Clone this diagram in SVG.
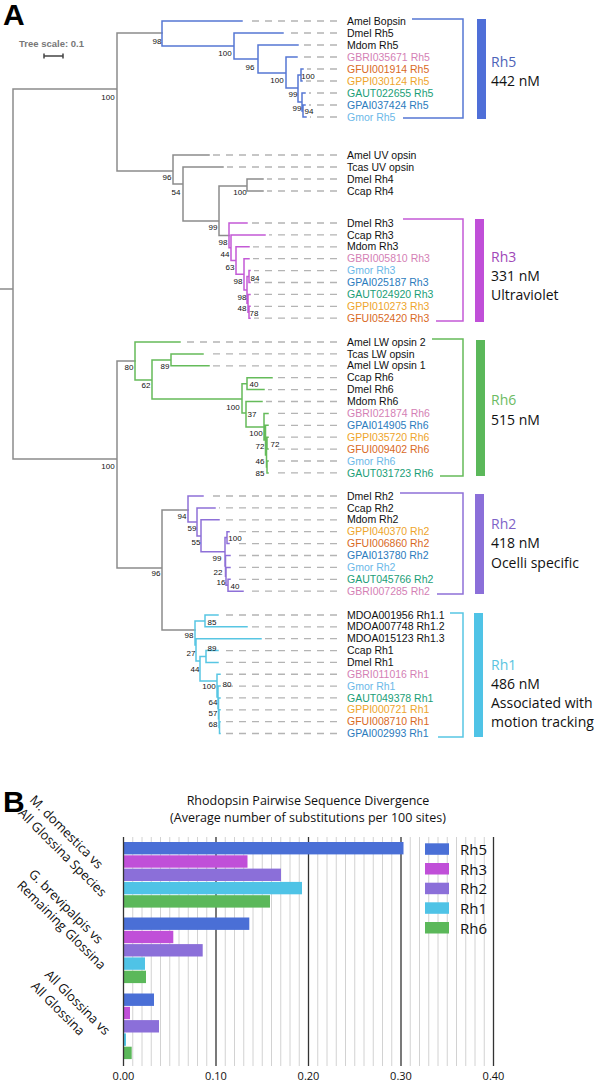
<svg xmlns="http://www.w3.org/2000/svg" width="596" height="1083" viewBox="0 0 596 1083">
<style>
.t{fill:none;stroke-width:1.5;stroke-linecap:square}
.g{stroke:#8c8c8c}.b5{stroke:#5577d4}.m3{stroke:#c35ad6}.g6{stroke:#65bb5a}.p2{stroke:#8e70d8}.c1{stroke:#58c6e3}
.d line{stroke:#b4b4b4;stroke-width:1.3;stroke-dasharray:7 6}
.lf{font-family:"Liberation Sans",Arial,sans-serif;font-size:10.5px;fill:#111}
.bs{font-family:"Liberation Sans",Arial,sans-serif;font-size:8px;fill:#111;text-anchor:middle}
.pk{fill:#d47fb5}.or{fill:#d96a1f}.ye{fill:#eea52c}.te{fill:#1a9e77}.bl{fill:#2b7bbd}.lb{fill:#6bb8e8}
.cl{font-family:"Open Sans",sans-serif;font-size:14px;fill:#111}
.br{fill:none;stroke-width:1.5}
.ch{font-family:"Open Sans",sans-serif;fill:#111}
</style>
<text x="3" y="25" font-family="Liberation Sans,Arial,sans-serif" font-weight="bold" font-size="30">A</text>
<g id="scale">
<text x="19" y="47" font-family="Liberation Sans,Arial,sans-serif" font-weight="bold" font-size="9.5" fill="#777">Tree scale: 0.1</text>
<path d="M44 56 H63 M44 53.5 V58.5 M63 53.5 V58.5" stroke="#444" stroke-width="1.5" fill="none"/>
</g>
<g id="connectors">
<path class="t g" d="M0 289 H13 M13 89 V459 M13 89 H117 M117 33 V171 M117 33 H162 M117 171 H173 M173 155 V184 M173 155 H209 M173 184 H183 M183 167 V221 M183 167 H223 M183 221 H219 M219 186 V235.4 M219 186 H247 M247 179 V191 M247 179 H263 M247 191 H263 M219 235.4 H229 M13 459 H117 M117 361 V568 M117 361 H135 M117 568 H162 M162 510 V630 M162 510 H188 M162 630 H195"/>
<path class="t b5" d="M162 21 V46 M162 21 H242 M162 46 H234 M234 33 V59 M234 33 H283 M234 59 H258 M258 45 V73 M258 45 H298 M258 73 H286 M286 57 V88 M286 57 H297 M286 88 H298 M298 75 V102 M298 75 H301 M301 69 V81 M301 69 H303 M301 81 H302 M298 102 H302 M302 93 V111 M302 93 H305 M302 111 H303 M303 105 V117 M303 105 H305 M303 117 H306"/>
<path class="t m3" d="M229 223 V247.7 M229 223 H247 M229 247.7 H231 M231 234.9 V260.5 M231 234.9 H265 M231 260.5 H236 M236 246.8 V274.3 M236 246.8 H249 M236 274.3 H244 M244 258.7 V289.9 M244 258.7 H249 M244 289.9 H247 M247 276.5 V303.3 M247 276.5 H249 M249 270.6 V282.5 M249 270.6 H250 M249 282.5 H250 M247 303.3 H248 M248 294.4 V312.3 M248 294.4 H250 M248 312.3 H249 M249 306.3 V318.2 M249 306.3 H250 M249 318.2 H250"/>
<path class="t g6" d="M135 342 V380 M135 342 H180 M135 380 H152 M152 360 V399 M152 360 H171 M171 353.9 V365.8 M171 353.9 H203 M171 365.8 H209 M152 399 H242 M242 383.7 V413 M242 383.7 H247 M247 377.7 V389.6 M247 377.7 H272 M247 389.6 H264 M242 413 H246 M246 401.5 V427 M246 401.5 H262 M246 427 H264 M264 413.4 V440 M264 413.4 H268 M264 440 H265.5 M265.5 425.3 V455 M265.5 425.3 H268 M265.5 455 H266.5 M266.5 443.2 V467 M266.5 443.2 H267 M267 437.2 V449.1 M267 437.2 H268 M267 449.1 H268 M266.5 467 H267 M267 461 V472.9 M267 461 H268 M267 472.9 H268"/>
<path class="t p2" d="M188 496 V522 M188 496 H203 M188 522 H197 M197 507.9 V536 M197 507.9 H215 M197 536 H201 M201 519.8 V551.8 M201 519.8 H219 M201 551.8 H225 M225 537.6 V566 M225 537.6 H227 M227 531.7 V543.6 M227 531.7 H229 M227 543.6 H229 M225 566 H225.5 M225.5 555.5 V576.3 M225.5 555.5 H230 M225.5 576.3 H226 M226 567.4 V585.3 M226 567.4 H230 M226 585.3 H228 M228 579.3 V591.2 M228 579.3 H230 M228 591.2 H243"/>
<path class="t c1" d="M195 621 V645 M195 621 H205 M205 615 V626.85 M205 615 H218 M205 626.85 H247 M195 645 H196 M196 638.7 V661 M196 638.7 H261 M196 661 H200 M200 656.5 V681 M200 656.5 H206 M206 650.55 V662.4 M206 650.55 H218 M206 662.4 H218 M200 681 H217 M217 674.25 V697 M217 674.25 H220 M217 697 H218 M218 686.1 V708.4 M218 686.1 H220 M218 708.4 H218.5 M218.5 697.95 V718.8 M218.5 697.95 H220 M218.5 718.8 H219 M219 709.8 V727.6 M219 709.8 H220 M219 727.6 H219.5 M219.5 721.65 V733.5 M219.5 721.65 H220 M219.5 733.5 H220"/>
<g class="d">
<line x1="337" y1="21" x2="246" y2="21"/><line x1="337" y1="33" x2="287" y2="33"/><line x1="337" y1="45" x2="302" y2="45"/><line x1="337" y1="57" x2="301" y2="57"/><line x1="337" y1="69" x2="307" y2="69"/><line x1="337" y1="81" x2="306" y2="81"/><line x1="337" y1="93" x2="309" y2="93"/><line x1="337" y1="105" x2="309" y2="105"/><line x1="337" y1="117" x2="310" y2="117"/>
<line x1="337" y1="155" x2="213" y2="155"/><line x1="337" y1="167" x2="227" y2="167"/><line x1="337" y1="179" x2="267" y2="179"/><line x1="337" y1="191" x2="267" y2="191"/>
<line x1="337" y1="223" x2="251" y2="223"/><line x1="337" y1="234.9" x2="269" y2="234.9"/><line x1="337" y1="246.8" x2="253" y2="246.8"/><line x1="337" y1="258.7" x2="253" y2="258.7"/><line x1="337" y1="270.6" x2="254" y2="270.6"/><line x1="337" y1="282.5" x2="254" y2="282.5"/><line x1="337" y1="294.4" x2="254" y2="294.4"/><line x1="337" y1="306.3" x2="254" y2="306.3"/><line x1="337" y1="318.2" x2="254" y2="318.2"/>
<line x1="337" y1="342" x2="184" y2="342"/><line x1="337" y1="353.9" x2="207" y2="353.9"/><line x1="337" y1="365.8" x2="213" y2="365.8"/><line x1="337" y1="377.7" x2="276" y2="377.7"/><line x1="337" y1="389.6" x2="268" y2="389.6"/><line x1="337" y1="401.5" x2="266" y2="401.5"/><line x1="337" y1="413.4" x2="272" y2="413.4"/><line x1="337" y1="425.3" x2="272" y2="425.3"/><line x1="337" y1="437.2" x2="272" y2="437.2"/><line x1="337" y1="449.1" x2="272" y2="449.1"/><line x1="337" y1="461" x2="272" y2="461"/><line x1="337" y1="472.9" x2="272" y2="472.9"/>
<line x1="337" y1="496" x2="207" y2="496"/><line x1="337" y1="507.9" x2="219" y2="507.9"/><line x1="337" y1="519.8" x2="223" y2="519.8"/><line x1="337" y1="531.7" x2="233" y2="531.7"/><line x1="337" y1="543.6" x2="233" y2="543.6"/><line x1="337" y1="555.5" x2="234" y2="555.5"/><line x1="337" y1="567.4" x2="234" y2="567.4"/><line x1="337" y1="579.3" x2="234" y2="579.3"/><line x1="337" y1="591.2" x2="247" y2="591.2"/>
<line x1="337" y1="615" x2="222" y2="615"/><line x1="337" y1="626.85" x2="251" y2="626.85"/><line x1="337" y1="638.7" x2="265" y2="638.7"/><line x1="337" y1="650.55" x2="222" y2="650.55"/><line x1="337" y1="662.4" x2="222" y2="662.4"/><line x1="337" y1="674.25" x2="224" y2="674.25"/><line x1="337" y1="686.1" x2="224" y2="686.1"/><line x1="337" y1="697.95" x2="224" y2="697.95"/><line x1="337" y1="709.8" x2="224" y2="709.8"/><line x1="337" y1="721.65" x2="224" y2="721.65"/><line x1="337" y1="733.5" x2="224" y2="733.5"/>
</g>
</g>
<g id="bootstrap">
<text class="bs" x="108" y="100">100</text><text class="bs" x="157" y="44">98</text><text class="bs" x="225" y="56">100</text><text class="bs" x="250" y="70">96</text><text class="bs" x="277" y="83">100</text><text class="bs" x="308" y="79">100</text><text class="bs" x="293" y="97">99</text><text class="bs" x="297" y="111">99</text><text class="bs" x="309" y="114">94</text>
<text class="bs" x="167" y="180">96</text><text class="bs" x="176" y="195">54</text><text class="bs" x="240" y="195">100</text><text class="bs" x="213" y="230">99</text>
<text class="bs" x="223" y="245">98</text><text class="bs" x="225" y="257">44</text><text class="bs" x="230" y="270">63</text><text class="bs" x="238" y="284">98</text><text class="bs" x="255" y="281">84</text><text class="bs" x="242" y="300">98</text><text class="bs" x="242" y="311">48</text><text class="bs" x="254" y="316">78</text>
<text class="bs" x="108" y="469">100</text><text class="bs" x="129" y="370">80</text><text class="bs" x="146" y="388">62</text><text class="bs" x="165" y="369">89</text><text class="bs" x="233" y="410">100</text><text class="bs" x="254" y="387">40</text><text class="bs" x="252" y="417">37</text><text class="bs" x="256" y="436">100</text><text class="bs" x="260" y="449">72</text><text class="bs" x="275" y="447">72</text><text class="bs" x="260" y="464">46</text><text class="bs" x="260" y="476">85</text>
<text class="bs" x="182" y="519">94</text><text class="bs" x="192" y="531">59</text><text class="bs" x="196" y="545">55</text><text class="bs" x="235" y="541">100</text><text class="bs" x="217" y="561">99</text><text class="bs" x="218" y="575">22</text><text class="bs" x="221" y="585">16</text><text class="bs" x="235" y="589">40</text><text class="bs" x="156" y="576">96</text>
<text class="bs" x="212" y="625">85</text><text class="bs" x="189" y="638">98</text><text class="bs" x="212" y="651">89</text><text class="bs" x="191" y="656">27</text><text class="bs" x="195" y="672">44</text><text class="bs" x="209" y="689">100</text><text class="bs" x="227" y="687">80</text><text class="bs" x="213" y="705">64</text><text class="bs" x="213" y="716">57</text><text class="bs" x="213" y="727">68</text>
</g>
<g id="leaves-rh5" class="lf">
<text x="347" y="24.6">Amel Bopsin</text><text x="347" y="36.6">Dmel Rh5</text><text x="347" y="48.6">Mdom Rh5</text><text x="347" y="60.6" class="pk">GBRI035671 Rh5</text><text x="347" y="72.6" class="or">GFUI001914 Rh5</text><text x="347" y="84.6" class="ye">GPPI030124 Rh5</text><text x="347" y="96.6" class="te">GAUT022655 Rh5</text><text x="347" y="108.6" class="bl">GPAI037424 Rh5</text><text x="347" y="120.6" class="lb">Gmor Rh5</text>
</g>
<g id="leaves-uv" class="lf">
<text x="347" y="158.6">Amel UV opsin</text><text x="347" y="170.6">Tcas UV opsin</text><text x="347" y="182.6">Dmel Rh4</text><text x="347" y="194.6">Ccap Rh4</text>
</g>
<g id="leaves-rh3" class="lf">
<text x="347" y="226.6">Dmel Rh3</text><text x="347" y="238.5">Ccap Rh3</text><text x="347" y="250.4">Mdom Rh3</text><text x="347" y="262.3" class="pk">GBRI005810 Rh3</text><text x="347" y="274.2" class="lb">Gmor Rh3</text><text x="347" y="286.1" class="bl">GPAI025187 Rh3</text><text x="347" y="298" class="te">GAUT024920 Rh3</text><text x="347" y="309.9" class="ye">GPPI010273 Rh3</text><text x="347" y="321.8" class="or">GFUI052420 Rh3</text>
</g>
<g id="leaves-rh6" class="lf">
<text x="347" y="345.6">Amel LW opsin 2</text><text x="347" y="357.5">Tcas LW opsin</text><text x="347" y="369.4">Amel LW opsin 1</text><text x="347" y="381.3">Ccap Rh6</text><text x="347" y="393.2">Dmel Rh6</text><text x="347" y="405.1">Mdom Rh6</text><text x="347" y="417" class="pk">GBRI021874 Rh6</text><text x="347" y="428.9" class="bl">GPAI014905 Rh6</text><text x="347" y="440.8" class="ye">GPPI035720 Rh6</text><text x="347" y="452.7" class="or">GFUI009402 Rh6</text><text x="347" y="464.6" class="lb">Gmor Rh6</text><text x="347" y="476.5" class="te">GAUT031723 Rh6</text>
</g>
<g id="leaves-rh2" class="lf">
<text x="347" y="499.6">Dmel Rh2</text><text x="347" y="511.5">Ccap Rh2</text><text x="347" y="523.4">Mdom Rh2</text><text x="347" y="535.3" class="ye">GPPI040370 Rh2</text><text x="347" y="547.2" class="or">GFUI006860 Rh2</text><text x="347" y="559.1" class="bl">GPAI013780 Rh2</text><text x="347" y="571" class="lb">Gmor Rh2</text><text x="347" y="582.9" class="te">GAUT045766 Rh2</text><text x="347" y="594.8" class="pk">GBRI007285 Rh2</text>
</g>
<g id="leaves-rh1" class="lf">
<text x="347" y="618.6">MDOA001956 Rh1.1</text><text x="347" y="630.45">MDOA007748 Rh1.2</text><text x="347" y="642.3">MDOA015123 Rh1.3</text><text x="347" y="654.15">Ccap Rh1</text><text x="347" y="666">Dmel Rh1</text><text x="347" y="677.85" class="pk">GBRI011016 Rh1</text><text x="347" y="689.7" class="lb">Gmor Rh1</text><text x="347" y="701.55" class="te">GAUT049378 Rh1</text><text x="347" y="713.4" class="ye">GPPI000721 Rh1</text><text x="347" y="725.25" class="or">GFUI008710 Rh1</text><text x="347" y="737.1" class="bl">GPAI002993 Rh1</text>
</g>
<g id="clade-rh5">
<path class="br" stroke="#5577d4" d="M412 19 H463 V118 H403"/>
<rect x="477" y="19" width="9" height="100" fill="#4f6fd8"/>
<text class="cl" x="491" y="67" style="fill:#4d63b8">Rh5</text>
<text class="cl" x="491" y="86">442 nM</text>
</g>
<g id="clade-rh3">
<path class="br" stroke="#c35ad6" d="M403 219 H463 V321 H436"/>
<rect x="475" y="219" width="9" height="103" fill="#c04fd8"/>
<text class="cl" x="491" y="262" style="fill:#a047b8">Rh3</text>
<text class="cl" x="491" y="281">331 nM</text>
<text class="cl" x="491" y="300">Ultraviolet</text>
</g>
<g id="clade-rh6">
<path class="br" stroke="#65bb5a" d="M432 339 H463 V476 H440"/>
<rect x="476" y="340" width="9" height="136" fill="#5bb85a"/>
<text class="cl" x="491" y="405" style="fill:#6cbb63">Rh6</text>
<text class="cl" x="491" y="425">515 nM</text>
</g>
<g id="clade-rh2">
<path class="br" stroke="#8e70d8" d="M400 493 H463 V594 H437"/>
<rect x="475" y="494" width="9" height="100" fill="#8b6fd9"/>
<text class="cl" x="491" y="529" style="fill:#7e63c8">Rh2</text>
<text class="cl" x="491" y="548">418 nM</text>
<text class="cl" x="491" y="568">Ocelli specific</text>
</g>
<g id="clade-rh1">
<path class="br" stroke="#58c6e3" d="M450 613 H463 V737 H438"/>
<rect x="474" y="613" width="9" height="124" fill="#4fc3e6"/>
<text class="cl" x="491" y="670" style="fill:#5ac4e0">Rh1</text>
<text class="cl" x="491" y="689">486 nM</text>
<text class="cl" x="491" y="708">Associated with</text>
<text class="cl" x="491" y="727">motion tracking</text>
</g>
<text x="3" y="812" font-family="Liberation Sans,Arial,sans-serif" font-weight="bold" font-size="30">B</text>
<g id="chart">
<text class="ch" x="308" y="805" font-size="12.5" text-anchor="middle">Rhodopsin Pairwise Sequence Divergence</text>
<text class="ch" x="308" y="822" font-size="12.5" text-anchor="middle">(Average number of substitutions per 100 sites)</text>
<g stroke="#d2d2d2" stroke-width="1">
<path d="M132.75 837V1066M142 837V1066M151.25 837V1066M160.5 837V1066M169.75 837V1066M179 837V1066M188.25 837V1066M197.5 837V1066M206.75 837V1066M225.25 837V1066M234.5 837V1066M243.75 837V1066M253 837V1066M262.25 837V1066M271.5 837V1066M280.75 837V1066M290 837V1066M299.25 837V1066M317.75 837V1066M327 837V1066M336.25 837V1066M345.5 837V1066M354.75 837V1066M364 837V1066M373.25 837V1066M382.5 837V1066M391.75 837V1066M410.25 837V1066M419.5 837V1066M428.75 837V1066M438 837V1066M447.25 837V1066M456.5 837V1066M465.75 837V1066M475 837V1066M484.25 837V1066"/>
</g>
<path d="M216 837V1066M308.5 837V1066M401 837V1066M493.5 837V1066" stroke="#333" stroke-width="1.3"/>
<g id="bars">
<rect x="123.5" y="842" width="280" height="12.4" fill="#4a6fd6"/>
<rect x="123.5" y="855.3" width="124" height="12.4" fill="#c04fd8"/>
<rect x="123.5" y="868.6" width="157.5" height="12.4" fill="#8b6fd9"/>
<rect x="123.5" y="881.9" width="178.5" height="12.4" fill="#4fc3e6"/>
<rect x="123.5" y="895.2" width="146.5" height="12.4" fill="#5bb85a"/>
<rect x="123.5" y="917.5" width="125.8" height="12.4" fill="#4a6fd6"/>
<rect x="123.5" y="930.8" width="49.8" height="12.4" fill="#c04fd8"/>
<rect x="123.5" y="944.1" width="79.2" height="12.4" fill="#8b6fd9"/>
<rect x="123.5" y="957.4" width="21.5" height="12.4" fill="#4fc3e6"/>
<rect x="123.5" y="970.7" width="22.5" height="12.4" fill="#5bb85a"/>
<rect x="123.5" y="993.5" width="30.5" height="12.4" fill="#4a6fd6"/>
<rect x="123.5" y="1006.8" width="6.5" height="12.4" fill="#c04fd8"/>
<rect x="123.5" y="1020.1" width="35.5" height="12.4" fill="#8b6fd9"/>
<rect x="123.5" y="1033.4" width="2.5" height="12.4" fill="#4fc3e6"/>
<rect x="123.5" y="1046.7" width="8.2" height="12.4" fill="#5bb85a"/>
</g>
<path d="M123.5 837V1066" stroke="#333" stroke-width="1.3"/>
<g class="ch" font-size="11" text-anchor="middle">
<text x="123.5" y="1080">0.00</text><text x="216" y="1080">0.10</text><text x="308.5" y="1080">0.20</text><text x="401" y="1080">0.30</text><text x="493.5" y="1080">0.40</text>
</g>
<g id="legend" class="ch" font-size="15">
<rect x="425" y="843.3" width="24" height="11.5" fill="#4a6fd6"/><text x="460" y="855">Rh5</text>
<rect x="425" y="863" width="24" height="11.5" fill="#c04fd8"/><text x="460" y="875">Rh3</text>
<rect x="425" y="882.7" width="24" height="11.5" fill="#8b6fd9"/><text x="460" y="894">Rh2</text>
<rect x="425" y="902.3" width="24" height="11.5" fill="#4fc3e6"/><text x="460" y="914">Rh1</text>
<rect x="425" y="922" width="24" height="11.5" fill="#5bb85a"/><text x="460" y="934">Rh6</text>
</g>
<g id="ylabels" class="ch" font-size="13" text-anchor="middle">
<text transform="translate(63.3 835.2) rotate(45)">M. domestica vs</text>
<text transform="translate(59.3 855.7) rotate(45)">All Glossina Species</text>
<text transform="translate(62.8 909.7) rotate(45)">G. brevipalpis vs</text>
<text transform="translate(58.3 928.2) rotate(45)">Remaining Glossina</text>
<text transform="translate(74.3 1005.7) rotate(45)">All Glossina vs</text>
<text transform="translate(54.8 1011.7) rotate(45)">All Glossina</text>
</g>
</g>
</svg>
